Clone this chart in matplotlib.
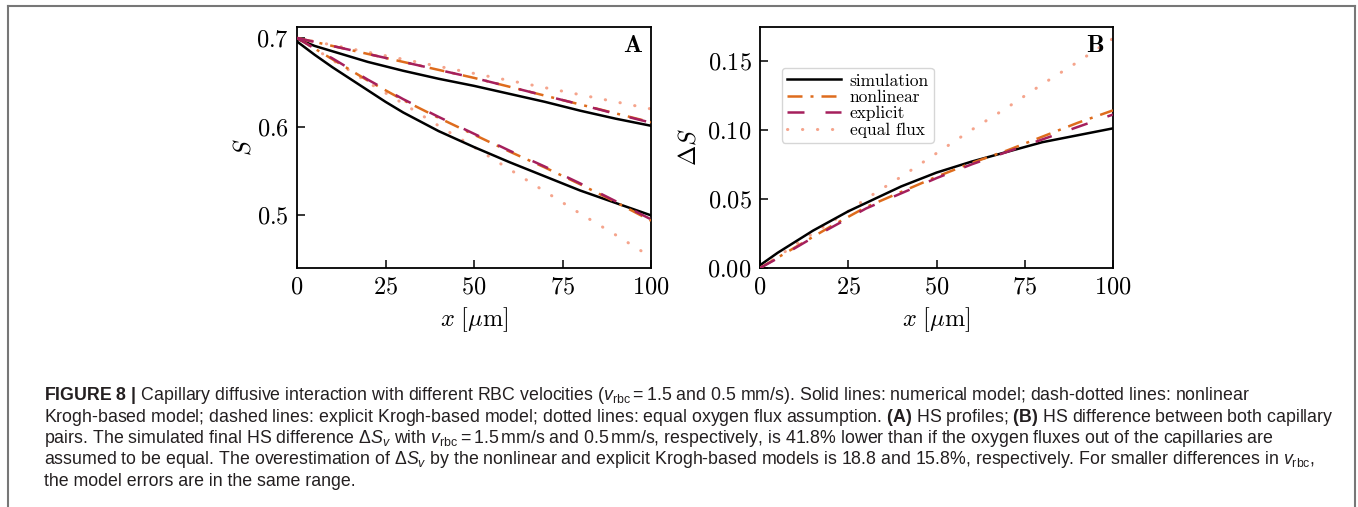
import matplotlib
matplotlib.use('Agg')
import matplotlib.pyplot as plt
from matplotlib import font_manager
from matplotlib.lines import Line2D

# values (x in um)
x = [0, 5, 10, 15, 20, 25, 30, 40, 50, 60, 70, 80, 90, 100]

# panel A: upper curves = fast capillary (1.5 mm/s)
sim_fast = [0.699, 0.691, 0.685, 0.679, 0.673, 0.668, 0.663, 0.654, 0.646, 0.637, 0.628, 0.618, 0.609, 0.601]
nonlin_fast = [0.700, 0.6955, 0.691, 0.6865, 0.682, 0.6775, 0.673, 0.664, 0.655, 0.645, 0.635, 0.625, 0.615, 0.605]
expl_fast = [0.700, 0.6955, 0.691, 0.6865, 0.682, 0.6775, 0.673, 0.664, 0.655, 0.645, 0.635, 0.625, 0.6145, 0.6045]
flux_fast = [0.700, 0.696, 0.692, 0.688, 0.684, 0.680, 0.676, 0.668, 0.660, 0.652, 0.644, 0.636, 0.628, 0.620]
# panel A: lower curves = slow capillary (0.5 mm/s)
sim_slow = [0.696, 0.681, 0.667, 0.654, 0.641, 0.628, 0.616, 0.595, 0.577, 0.560, 0.544, 0.528, 0.514, 0.500]
nonlin_slow = [0.700, 0.688, 0.676, 0.664, 0.652, 0.641, 0.630, 0.610, 0.591, 0.572, 0.554, 0.535, 0.515, 0.494]
expl_slow = [0.700, 0.688, 0.677, 0.665, 0.653, 0.642, 0.631, 0.611, 0.592, 0.573, 0.555, 0.536, 0.516, 0.4955]
flux_slow = [0.700, 0.688, 0.675, 0.663, 0.650, 0.638, 0.626, 0.601, 0.577, 0.552, 0.527, 0.502, 0.478, 0.453]

# panel B: HS difference between the pairs
dS_sim = [0.002, 0.011, 0.019, 0.027, 0.034, 0.041, 0.047, 0.059, 0.069, 0.077, 0.084, 0.091, 0.096, 0.101]
dS_nonlin = [0.000, 0.0075, 0.015, 0.0225, 0.030, 0.037, 0.044, 0.055, 0.066, 0.076, 0.085, 0.095, 0.105, 0.114]
dS_expl = [0.000, 0.007, 0.0145, 0.022, 0.029, 0.036, 0.043, 0.054, 0.065, 0.075, 0.084, 0.093, 0.102, 0.111]
dS_flux = [0.000, 0.008, 0.017, 0.025, 0.033, 0.041, 0.050, 0.066, 0.083, 0.100, 0.116, 0.133, 0.149, 0.166]

labels = ['simulation', 'nonlinear', 'explicit', 'equal flux']
xticks = [0, 25, 50, 75, 100]
yticks_A = [0.5, 0.6, 0.7]
yticks_B = [0.0, 0.05, 0.10, 0.15]

caption_lines = [
    r"$\mathbf{FIGURE\ 8\ |}$ Capillary diffusive interaction with different RBC velocities ($v_\mathrm{rbc}=1.5$ and 0.5 mm/s). Solid lines: numerical model; dash-dotted lines: nonlinear",
    r"Krogh-based model; dashed lines: explicit Krogh-based model; dotted lines: equal oxygen flux assumption. $\mathbf{(A)}$ HS profiles; $\mathbf{(B)}$ HS difference between both capillary",
    r"pairs. The simulated final HS difference $\Delta S_v$ with $v_\mathrm{rbc}=1.5\,\mathrm{mm/s}$ and $0.5\,\mathrm{mm/s}$, respectively, is 41.8% lower than if the oxygen fluxes out of the capillaries are",
    r"assumed to be equal. The overestimation of $\Delta S_v$ by the nonlinear and explicit Krogh-based models is 18.8 and 15.8%, respectively. For smaller differences in $v_\mathrm{rbc}$,",
    r"the model errors are in the same range.",
]

# line styles (dash lengths in units of linewidth)
styles = {
    'simulation': dict(color='black', lw=1.8, ls='-', zorder=3),
    'nonlinear': dict(color='#de6c1d', lw=1.8, ls=(0, (6, 3.2, 1.2, 3.2)), zorder=4),
    'explicit': dict(color='#a51f5c', lw=1.8, ls=(0, (6.8, 8.4)), zorder=5),
    'equal flux': dict(color='#f5a48c', lw=2.2, ls=(0, (0.1, 4.8)), dash_capstyle='round', zorder=2),
}

names = {f.name for f in font_manager.fontManager.ttflist}
cap_font = 'Liberation Sans Narrow' if 'Liberation Sans Narrow' in names else 'Liberation Sans'

plt.rcParams['font.family'] = ['cmr10']
plt.rcParams['axes.formatter.use_mathtext'] = True
plt.rcParams['mathtext.fontset'] = 'cm'
plt.rcParams['mathtext.rm'] = cap_font
plt.rcParams['mathtext.it'] = cap_font + ':italic'
plt.rcParams['mathtext.bf'] = cap_font + ':bold'

W, H = 1358, 507
fig = plt.figure(figsize=(W / 100, H / 100), dpi=100)
axA = fig.add_axes([297 / W, 1 - 268 / H, 354 / W, 241 / H])
axB = fig.add_axes([760 / W, 1 - 268 / H, 353 / W, 241 / H])

for lab, yf, ys in zip(labels, [sim_fast, nonlin_fast, expl_fast, flux_fast],
                       [sim_slow, nonlin_slow, expl_slow, flux_slow]):
    axA.plot(x, yf, **styles[lab])
    axA.plot(x, ys, **styles[lab])

for lab, d in zip(labels, [dS_sim, dS_nonlin, dS_expl, dS_flux]):
    axB.plot(x, d, label=lab, **styles[lab])

axB.set_ylim(bottom=0)

for ax, letter, yt, ylab, lpad in [(axA, 'A', yticks_A, r'$S$', 0), (axB, 'B', yticks_B, r'$\Delta S$', 5)]:
    ax.set_xlim(0, 100)
    ax.set_xticks(xticks)
    ax.set_yticks(yt)
    ax.tick_params(direction='in', length=6, width=1.1, labelsize=17.5, pad=6)
    for sp in ax.spines.values():
        sp.set_linewidth(1.3)
    ax.set_xlabel(r'$x\ [\mu\mathrm{m}]$', fontsize=17.5, labelpad=5)
    ax.set_ylabel(ylab, fontsize=17.5, labelpad=lpad)
    ax.text(0.975, 0.965, letter, transform=ax.transAxes, ha='right', va='top',
            fontsize=18, fontfamily='cmb10')

axB.legend(loc='upper left', bbox_to_anchor=(0.062, 0.83), borderaxespad=0,
           fontsize=12.5, handlelength=3.1, handletextpad=0.5, labelspacing=0.06,
           borderpad=0.3, frameon=True)

# caption box border
for xs, ys in [([8, 8], [H + 5, 6]), ([8, 1355], [6, 6]), ([1355, 1355], [6, H + 5])]:
    fig.add_artist(Line2D([v / W for v in xs], [1 - v / H for v in ys],
                          color='#777777', lw=1.5, transform=fig.transFigure))

cap_texts = []
for i, line in enumerate(caption_lines):
    t = fig.text(44 / W, 1 - (400 + 21.5 * i) / H, line, fontsize=13, family=[cap_font, 'DejaVu Sans'],
                 math_fontfamily='custom', va='baseline', ha='left', color='#231f20')
    cap_texts.append(t)

# fit the caption width to the reference (second line is the longest)
r = fig.canvas.get_renderer()
w = cap_texts[1].get_window_extent(r).width
for t in cap_texts:
    t.set_fontsize(13 * 1284 / w)

fig.savefig('out.png', dpi=100)
